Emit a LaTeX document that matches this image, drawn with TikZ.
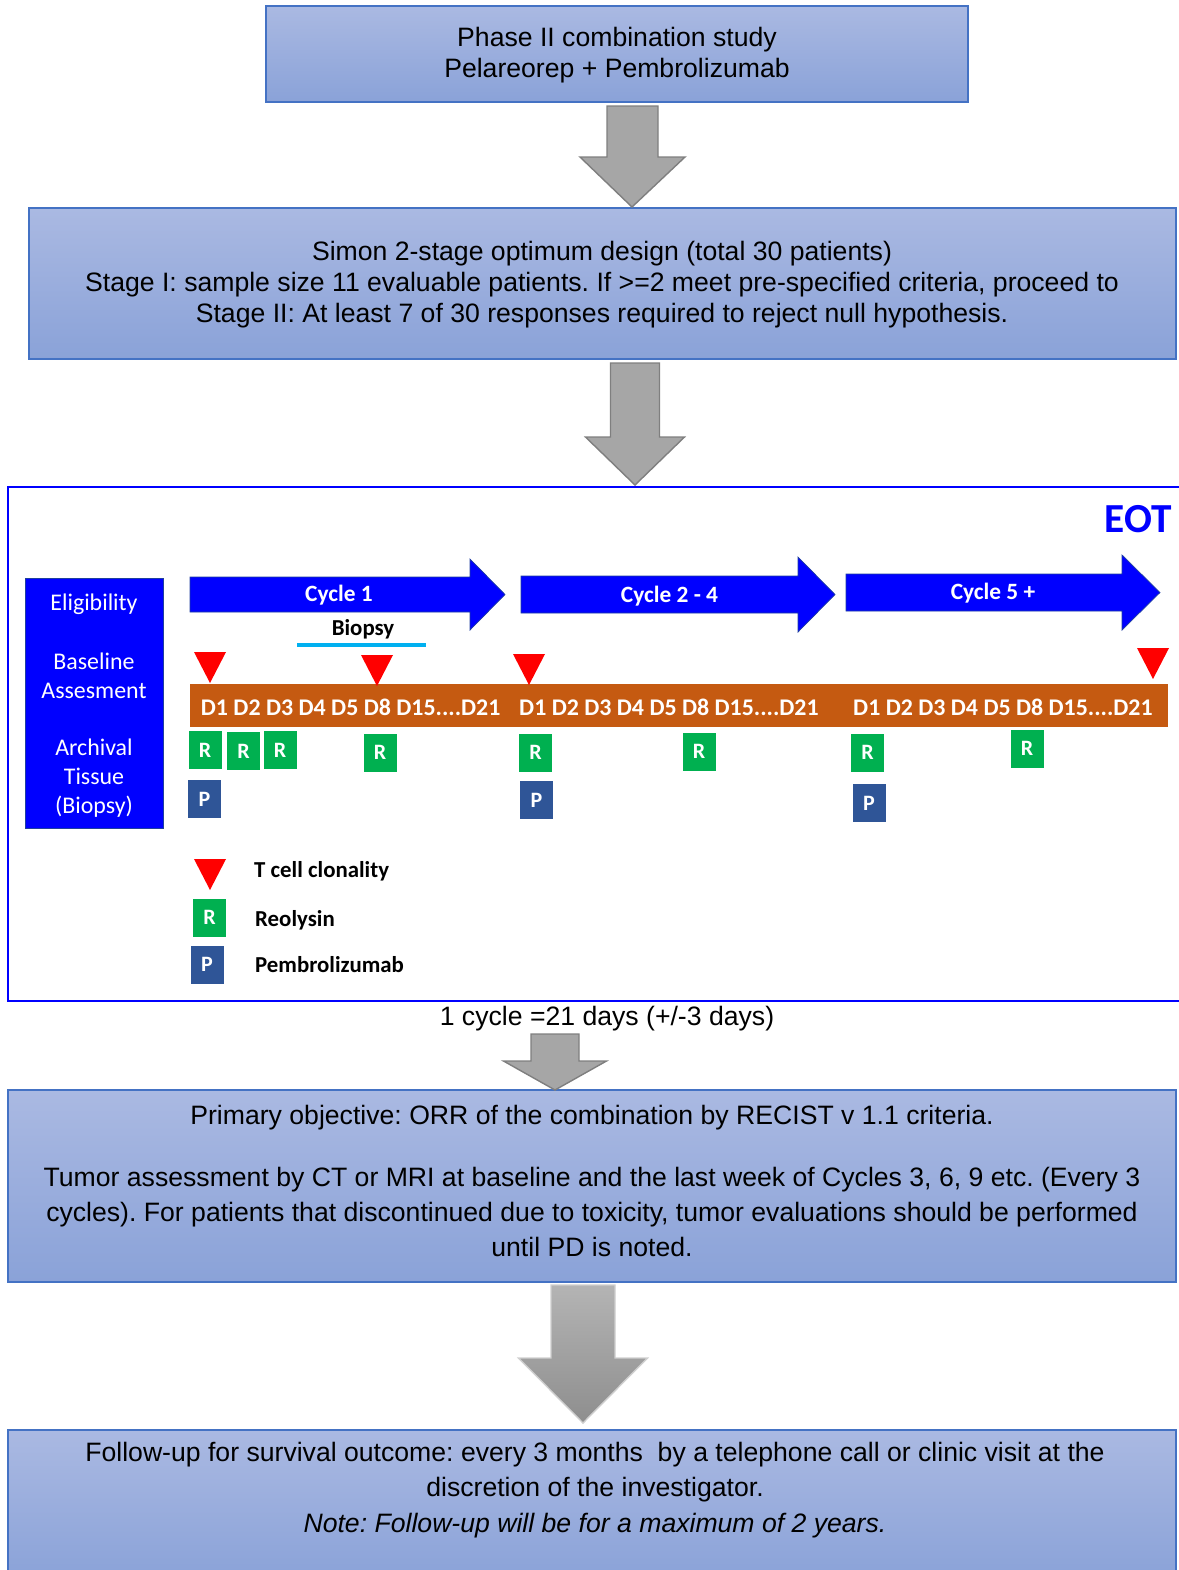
\documentclass[tikz,border=0pt]{standalone}
\usepackage{fontspec}
\setmainfont{Liberation Sans}
\newfontfamily\calfont{Carlito}
\frenchspacing

\definecolor{boxtop}{HTML}{AAB9E2}
\definecolor{boxbot}{HTML}{8AA2D8}
\definecolor{boxline}{HTML}{4472C4}
\definecolor{arrfill}{HTML}{A6A6A6}
\definecolor{arrline}{HTML}{7F7F7F}
\definecolor{arrtop}{HTML}{B4B4B4}
\definecolor{arrbot}{HTML}{8E8E8E}
\definecolor{arrlight}{HTML}{CFCFCF}
\definecolor{cycblue}{HTML}{0000FF}
\definecolor{cycline}{HTML}{1F3F9F}
\definecolor{dayorange}{HTML}{C55A11}
\definecolor{rgreen}{HTML}{00B050}
\definecolor{pblue}{HTML}{2F5597}
\definecolor{tred}{HTML}{FF0000}
\definecolor{biocyan}{HTML}{00B0F0}

\begin{document}
\begin{tikzpicture}[x=0.02cm,y=-0.02cm]
\tikzset{bluebox/.style={draw=boxline, line width=0.7pt, top color=boxtop, bottom color=boxbot, inner sep=0pt},
  boxtext/.style={align=center, font=\fontsize{15.15}{17.6}\selectfont},
  grayarrow/.style={draw=arrline, fill=arrfill, line width=0.8pt},
  softarrow/.style={draw=arrlight, top color=arrtop, bottom color=arrbot, line width=0.8pt},
  cycarrow/.style={draw=cycline, fill=cycblue, line width=0.4pt},
  cyctext/.style={text=white, font=\calfont\bfseries\fontsize{13.3}{16}\selectfont},
  lefttext/.style={text=white, align=center, font=\calfont\fontsize{13.6}{16.4}\selectfont},
  daytext/.style={text=white, font=\calfont\bfseries\fontsize{13.6}{16}\selectfont},
  keytext/.style={anchor=west, font=\calfont\bfseries\fontsize{13}{16}\selectfont},
  rbox/.style={fill=rgreen, text=white, inner sep=0pt, minimum width=33*0.02cm, minimum height=38*0.02cm, font=\calfont\bfseries\fontsize{12.5}{15}\selectfont},
  pbox/.style={rbox, fill=pblue},
  tcell/.pic={\fill[tred] (0,0) -- (-16,-31) -- (16,-31) -- cycle;}}
\useasboundingbox (0,0) rectangle (1178,1570);

\node[bluebox, minimum width=702*0.02cm, minimum height=96*0.02cm] (b1) at (617,54) {};
\node[bluebox, minimum width=1147*0.02cm, minimum height=151*0.02cm] (b2) at (602.5,283.5) {};
\node[bluebox, minimum width=1168*0.02cm, minimum height=192*0.02cm] (b3) at (592,1186) {};
\node[bluebox, minimum width=1168*0.02cm, minimum height=150*0.02cm] (b4) at (592,1505) {};
\node[boxtext] (t1) at (617,55) {Phase II combination study\\Pelareorep + Pembrolizumab};
\node[boxtext] (t2) at (602,285) {Simon 2-stage optimum design (total 30 patients)\\Stage I: sample size 11 evaluable patients. If >=2 meet pre-specified criteria, proceed to\\Stage II: At least 7 of 30 responses required to reject null hypothesis.};
\node[boxtext, font=\fontsize{15.15}{19.8}\selectfont] (t3) at (592,1181) {Primary objective: ORR of the combination by RECIST v 1.1 criteria.\\[15.3pt]Tumor assessment by CT or MRI at baseline and the last week of Cycles 3, 6, 9 etc. (Every 3\\cycles). For patients that discontinued due to toxicity, tumor evaluations should be performed\\until PD is noted.};
\node[boxtext, font=\fontsize{15.15}{20.4}\selectfont] (t4) at (595,1490) {Follow-up for survival outcome: every 3 months~ by a telephone call or clinic visit at the\\discretion of the investigator.\\\textit{Note: Follow-up will be for a maximum of 2 years.}};

\coordinate (a1) at (632,207);
\coordinate (a2) at (635,485);
\coordinate (a3) at (555,1090);
\coordinate (a4) at (583,1423);
\draw[grayarrow] (a1) -- ++(-52,-50) -- ++(27,0) -- ++(0,-51) -- ++(51,0) -- ++(0,51) -- ++(27,0) -- cycle;
\draw[grayarrow] (a2) -- ++(-49.5,-48) -- ++(25,0) -- ++(0,-74) -- ++(49,0) -- ++(0,74) -- ++(25,0) -- cycle;
\draw[grayarrow] (a3) -- ++(-51.5,-29) -- ++(27.5,0) -- ++(0,-27) -- ++(48,0) -- ++(0,27) -- ++(27.5,0) -- cycle;
\draw[softarrow] (a4) -- ++(-64.5,-65) -- ++(32.5,0) -- ++(0,-73) -- ++(64,0) -- ++(0,73) -- ++(32.5,0) -- cycle;

\draw[cycblue, line width=1.1pt] (8,487) rectangle (1200,1001);
\node[text=cycblue, anchor=east, font=\calfont\bfseries\fontsize{23.5}{26}\selectfont] (eot) at (1178,519) {EOT};

\node[fill=cycblue, draw=cycline, line width=0.4pt, inner sep=0pt, minimum width=138*0.02cm, minimum height=250*0.02cm] (elig) at (94,703) {};
\node[lefttext] (e1) at (94,604) {Eligibility};
\node[lefttext] (e2) at (94,676) {Baseline\\Assesment};
\node[lefttext] (e3) at (94,778) {Archival\\Tissue\\(Biopsy)};

\draw[cycarrow] (190,577) -- (470,577) -- (470,559) -- (505,594.5) -- (470,630) -- (470,612) -- (190,612) -- cycle;
\draw[cycarrow] (521,576) -- (798,576) -- (798,557) -- (835,594.5) -- (798,632) -- (798,613) -- (521,613) -- cycle;
\draw[cycarrow] (846,574) -- (1122,574) -- (1122,555) -- (1160,592.5) -- (1122,630) -- (1122,611) -- (846,611) -- cycle;
\node[cyctext] (c1) at (339,595) {Cycle 1};
\node[cyctext] (c2) at (669.5,596) {Cycle 2 - 4};
\node[cyctext] (c5) at (993,593) {Cycle 5 +};

\node[keytext, anchor=center] (bio) at (363,629) {Biopsy};
\draw[biocyan, line width=2.3pt] (297,645) -- (426,645);

\node[fill=dayorange, inner sep=0pt, minimum width=978*0.02cm, minimum height=43*0.02cm] (days) at (679,705.5) {};
\node[daytext] (d1) at (350.7,707) {D1 D2 D3 D4 D5 D8 D15....D21};
\node[daytext] (d2) at (669,707) {D1 D2 D3 D4 D5 D8 D15....D21};
\node[daytext] (d3) at (1003,707) {D1 D2 D3 D4 D5 D8 D15....D21};

\pic at (210,683) {tcell};
\pic at (377,686) {tcell};
\pic at (529,685) {tcell};
\pic at (1153,679) {tcell};

\node[rbox] (R1) at (205,750) {R};
\node[rbox] (R2) at (243.5,751) {R};
\node[rbox] (R3) at (280,750) {R};
\node[rbox] (R4) at (380,752.5) {R};
\node[rbox] (R5) at (535.5,752.5) {R};
\node[rbox] (R6) at (699,751.5) {R};
\node[rbox] (R7) at (867.5,752.5) {R};
\node[rbox] (R8) at (1027,748.5) {R};
\node[pbox] (P1) at (204.5,799) {P};
\node[pbox] (P2) at (536.5,800) {P};
\node[pbox] (P3) at (869,803) {P};

\pic at (210,890) {tcell};
\node[rbox] (LR) at (209.5,917.5) {R};
\node[pbox] (LP) at (207,964.5) {P};
\node[keytext] (k1) at (248,871) {T cell clonality};
\node[keytext] (k2) at (249,920) {Reolysin};
\node[keytext] (k3) at (249,965) {Pembrolizumab};

\node[boxtext] (cyc) at (607,1019) {1 cycle =21 days (+/-3 days)};
\end{tikzpicture}
\end{document}
